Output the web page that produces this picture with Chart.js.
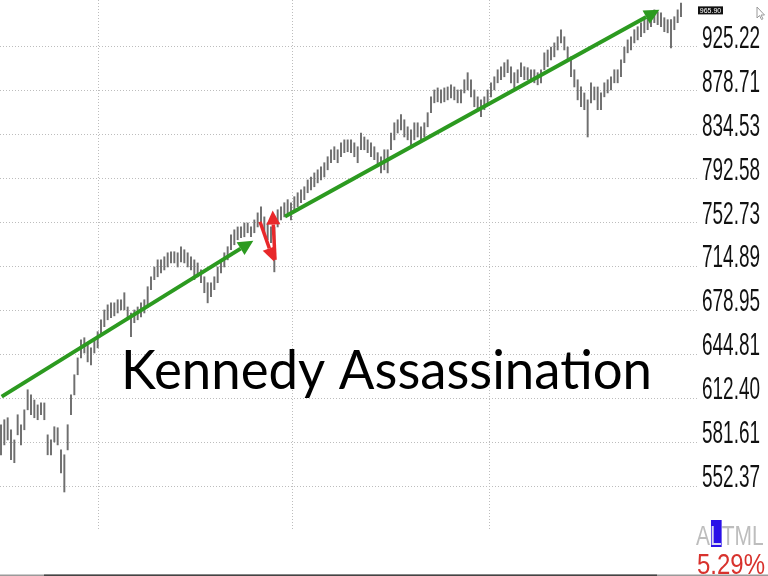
<!DOCTYPE html>
<html>
<head>
<meta charset="utf-8">
<script src="https://cdn.jsdelivr.net/npm/chart.js@4.4.1/dist/chart.umd.min.js"></script>
<style>
  html, body { margin: 0; padding: 0; background: #fff; }
  #wrap { width: 768px; height: 576px; position: relative; }
</style>
</head>
<body>
<div id="wrap"><canvas id="priceChart"></canvas></div>
<script>
// daily high / low from left to right
const highs = [
  593.6, 597.1, 598.5, 590.1, 583.1, 600.6, 593.6, 604.1, 618.5, 614.8,
  611.1, 607.6, 609.0, 609.0, 586.6, 583.1, 592.2, 591.5, 576.3, 573.0,
  593.6, 614.8, 629.5, 642.1, 655.9, 657.5, 652.0, 649.7, 655.9, 662.2,
  671.5, 679.3, 683.4, 685.0, 685.0, 687.5, 687.5, 693.2, 681.7, 676.9,
  679.3, 681.7, 685.0, 687.5, 698.1, 706.3, 714.5, 720.5, 720.5, 723.1,
  726.5, 727.4, 727.4, 726.5, 731.7, 729.1, 726.5, 723.1, 720.5, 717.9,
  712.0, 706.3, 701.4, 701.4, 706.3, 714.5, 720.5, 726.5, 731.7, 742.0,
  746.4, 748.9, 748.9, 752.4, 752.4, 748.9, 755.1, 761.4, 766.9, 757.8,
  752.4, 748.9, 748.9, 764.2, 766.9, 770.5, 773.3, 770.5, 776.0, 779.6,
  782.3, 785.1, 791.4, 794.2, 798.0, 800.9, 803.8, 807.6, 813.3, 820.0,
  822.9, 820.0, 826.7, 829.6, 829.6, 829.6, 826.7, 822.9, 836.3, 832.4,
  829.6, 826.7, 822.9, 817.2, 813.3, 820.0, 820.0, 836.3, 846.4, 849.4,
  854.5, 849.4, 842.4, 839.4, 846.4, 846.4, 842.4, 846.4, 856.5, 872.6,
  879.7, 881.8, 879.7, 881.8, 882.8, 885.0, 882.8, 879.7, 879.7, 890.3,
  897.7, 890.3, 879.7, 872.6, 869.5, 872.6, 879.7, 887.1, 893.4, 900.8,
  904.0, 908.3, 911.4, 904.0, 897.7, 900.8, 908.3, 904.0, 903.0, 900.8,
  900.8, 897.7, 900.8, 918.9, 922.0, 925.2, 929.7, 936.4, 944.2, 936.4,
  925.2, 914.6, 900.8, 890.3, 882.8, 876.6, 869.5, 887.1, 882.8, 882.8,
  876.6, 887.1, 890.3, 893.4, 900.8, 900.8, 911.4, 925.2, 933.0, 936.4,
  944.2, 947.5, 952.0, 955.4, 958.7, 963.2, 966.5, 964.3, 963.2, 957.6,
  955.4, 955.4, 958.7, 966.5, 974.3
];
const lows = [
  573.0, 579.7, 583.1, 569.7, 567.7, 586.6, 579.7, 590.1, 604.1, 600.6,
  598.5, 597.1, 600.6, 597.1, 573.0, 573.0, 581.7, 579.7, 561.0, 548.5,
  576.3, 600.6, 614.8, 629.5, 642.1, 645.8, 639.1, 636.9, 645.8, 649.7,
  659.8, 666.1, 671.5, 673.1, 674.6, 676.9, 679.3, 679.3, 671.5, 658.3,
  669.2, 671.5, 673.8, 676.9, 681.7, 695.7, 703.9, 706.3, 709.6, 712.0,
  714.5, 717.9, 717.9, 714.5, 718.8, 717.9, 714.5, 712.0, 703.9, 706.3,
  701.4, 693.2, 685.0, 689.9, 695.7, 701.4, 709.6, 714.5, 720.5, 729.1,
  733.4, 737.7, 739.5, 740.3, 743.8, 740.3, 743.8, 748.9, 752.4, 743.8,
  737.7, 735.2, 710.4, 748.9, 755.1, 757.8, 761.4, 755.1, 764.2, 766.9,
  770.5, 773.3, 779.6, 782.3, 785.1, 788.7, 791.4, 794.2, 800.9, 807.6,
  810.5, 807.6, 813.3, 817.2, 818.1, 817.2, 813.3, 807.6, 820.0, 820.0,
  817.2, 813.3, 810.5, 803.8, 798.0, 800.9, 798.0, 820.0, 829.6, 836.3,
  839.4, 832.4, 829.6, 822.9, 829.6, 832.4, 829.6, 832.4, 842.4, 856.5,
  866.5, 867.5, 866.5, 867.5, 869.5, 871.6, 869.5, 866.5, 866.5, 876.6,
  879.7, 872.6, 862.5, 859.5, 852.4, 859.5, 866.5, 872.6, 879.7, 887.1,
  890.3, 893.4, 897.7, 887.1, 881.8, 887.1, 893.4, 890.3, 890.3, 888.1,
  887.1, 885.0, 887.1, 900.8, 904.0, 911.4, 914.6, 922.0, 929.7, 922.0,
  911.4, 893.4, 882.8, 869.5, 862.5, 859.5, 832.4, 866.5, 869.5, 859.5,
  859.5, 872.6, 876.6, 879.7, 887.1, 887.1, 893.4, 908.3, 918.9, 922.0,
  929.7, 933.0, 936.4, 940.8, 944.2, 947.5, 952.0, 949.8, 947.5, 942.0,
  940.8, 924.1, 944.2, 952.0, 958.7
];

// right axis levels (each one 5.29% above the last)
const priceTicks = [552.37, 581.61, 612.40, 644.81, 678.95, 714.89, 752.73, 792.58, 834.53, 878.71, 925.22];
const lastPrice = 965.90;
const timeGrid = [29.1, 87.6, 146.7];

const caption = "Kennedy Assassination";
const boxLetters = ["A", "L", "T", "M", "L"];
const stepText = "5.29%";

// arrows as [bar index, price] -> [bar index, price]
const greenArrows = [[0.2, 613.5, 75.7, 736.9], [85.2, 758.1, 197.5, 966.5]];
const redArrows = [[77.7, 753.5, 81.9, 719.0], [82.2, 720.5, 81.5, 763.5]];

function drawArrow(ctx, x1, y1, x2, y2, color, lw, hl, hw) {
  const a = Math.atan2(y2 - y1, x2 - x1);
  const bx = x2 - hl * Math.cos(a), by = y2 - hl * Math.sin(a);
  ctx.save();
  ctx.strokeStyle = color;
  ctx.fillStyle = color;
  ctx.lineWidth = lw;
  ctx.beginPath();
  ctx.moveTo(x1, y1);
  ctx.lineTo(bx, by);
  ctx.stroke();
  ctx.beginPath();
  ctx.moveTo(x2, y2);
  ctx.lineTo(bx + hw / 2 * Math.sin(a), by - hw / 2 * Math.cos(a));
  ctx.lineTo(bx - hw / 2 * Math.sin(a), by + hw / 2 * Math.cos(a));
  ctx.closePath();
  ctx.fill();
  ctx.restore();
}

// squeeze a text into a given width (the screen font is a narrow one)
function fitText(ctx, txt, x, y, w, font, color) {
  ctx.save();
  ctx.font = font;
  const m = ctx.measureText(txt).width;
  ctx.translate(x, y);
  ctx.scale(w / m, 1);
  ctx.fillStyle = color;
  ctx.textAlign = 'left';
  ctx.textBaseline = 'alphabetic';
  ctx.fillText(txt, 0, 0);
  ctx.restore();
}

const overlay = {
  id: 'overlay',
  afterDraw(chart) {
    const ctx = chart.ctx;
    const xs = chart.scales.x, ys = chart.scales.y;
    const narrow = '"Liberation Sans Narrow", "Liberation Sans", Arial, sans-serif';

    greenArrows.forEach(a => drawArrow(ctx, xs.getPixelForValue(a[0]), ys.getPixelForValue(a[1]),
      xs.getPixelForValue(a[2]), ys.getPixelForValue(a[3]), '#2c9a20', 4, 15, 15));
    redArrows.forEach(a => drawArrow(ctx, xs.getPixelForValue(a[0]), ys.getPixelForValue(a[1]),
      xs.getPixelForValue(a[2]), ys.getPixelForValue(a[3]), '#e8282a', 3.5, 14, 14));

    // axis labels
    priceTicks.forEach(v => {
      fitText(ctx, v.toFixed(2), 702, ys.getPixelForValue(v) + 1, 58, '32px ' + narrow, '#111');
    });

    // last price tag
    const py = ys.getPixelForValue(lastPrice);
    ctx.fillStyle = '#111';
    ctx.fillRect(698, py - 4, 25, 8);
    ctx.fillStyle = '#fff';
    ctx.font = '7px "Liberation Sans", Arial, sans-serif';
    ctx.textAlign = 'center';
    ctx.textBaseline = 'middle';
    ctx.fillText(lastPrice.toFixed(2), 710.5, py + 0.5);

    // little mouse pointer
    ctx.save();
    ctx.beginPath();
    ctx.moveTo(757, 7); ctx.lineTo(757, 18); ctx.lineTo(759.5, 15.5); ctx.lineTo(761.5, 19.5);
    ctx.lineTo(763, 18.8); ctx.lineTo(761, 15); ctx.lineTo(764.5, 15); ctx.closePath();
    ctx.fillStyle = '#fff'; ctx.fill();
    ctx.strokeStyle = '#999'; ctx.lineWidth = 1; ctx.stroke();
    ctx.restore();

    // ALTML box
    ctx.save();
    ctx.font = '28px "Liberation Sans", Arial, sans-serif';
    const total = ctx.measureText(boxLetters.join('')).width;
    const sx = 66 / total;
    let cx = 696;
    boxLetters.forEach((ch, i) => {
      const w = ctx.measureText(ch).width * sx;
      if (i === 1) {
        ctx.fillStyle = '#2a10e8';
        ctx.fillRect(cx + 1, 520, w - 1, 27);
      }
      ctx.save();
      ctx.translate(cx, 545);
      ctx.scale(sx, 1);
      ctx.fillStyle = i === 1 ? '#d8d8f0' : '#bdbdbd';
      ctx.textAlign = 'left';
      ctx.textBaseline = 'alphabetic';
      ctx.fillText(ch, 0, 0);
      ctx.restore();
      cx += w;
    });
    ctx.restore();

    fitText(ctx, stepText, 697, 574, 68, '29px "Liberation Sans", Arial, sans-serif', '#d8322d');

    // caption
    fitText(ctx, caption, 121, 389, 531, '55px Lato, "Open Sans", sans-serif', '#000');

    // bottom strip
    ctx.fillStyle = '#9a9a9a';
    ctx.fillRect(0, 574.5, 768, 1.5);
    ctx.fillStyle = '#444';
    ctx.fillRect(44, 574.5, 613, 1.5);
  }
};

const barData = highs.map((h, i) => ({ x: i, y: [lows[i], h] }));

new Chart(document.getElementById('priceChart'), {
  type: 'bar',
  data: {
    datasets: [{
      data: barData,
      backgroundColor: '#6f6f6f',
      barThickness: 1.3,
      grouped: false
    }]
  },
  options: {
    responsive: true,
    maintainAspectRatio: false,
    animation: false,
    layout: { padding: { left: 0, top: 0, right: 71, bottom: 47 } },
    plugins: { legend: { display: false }, tooltip: { enabled: false } },
    scales: {
      x: {
        type: 'linear',
        offset: false,
        min: -0.3,
        max: 208.8,
        afterBuildTicks: s => { s.ticks = timeGrid.map(v => ({ value: v })); },
        ticks: { display: false },
        border: { display: false, dash: [1, 2] },
        grid: { color: '#bdbdbd', drawTicks: false, offset: false }
      },
      y: {
        type: 'logarithmic',
        position: 'right',
        min: 525.16,
        max: 977.75,
        afterBuildTicks: s => { s.ticks = priceTicks.map(v => ({ value: v })); },
        ticks: { display: false },
        border: { display: false, dash: [1, 2] },
        grid: { color: '#bdbdbd', drawTicks: false }
      }
    }
  },
  plugins: [overlay]
});
</script>
</body>
</html>
